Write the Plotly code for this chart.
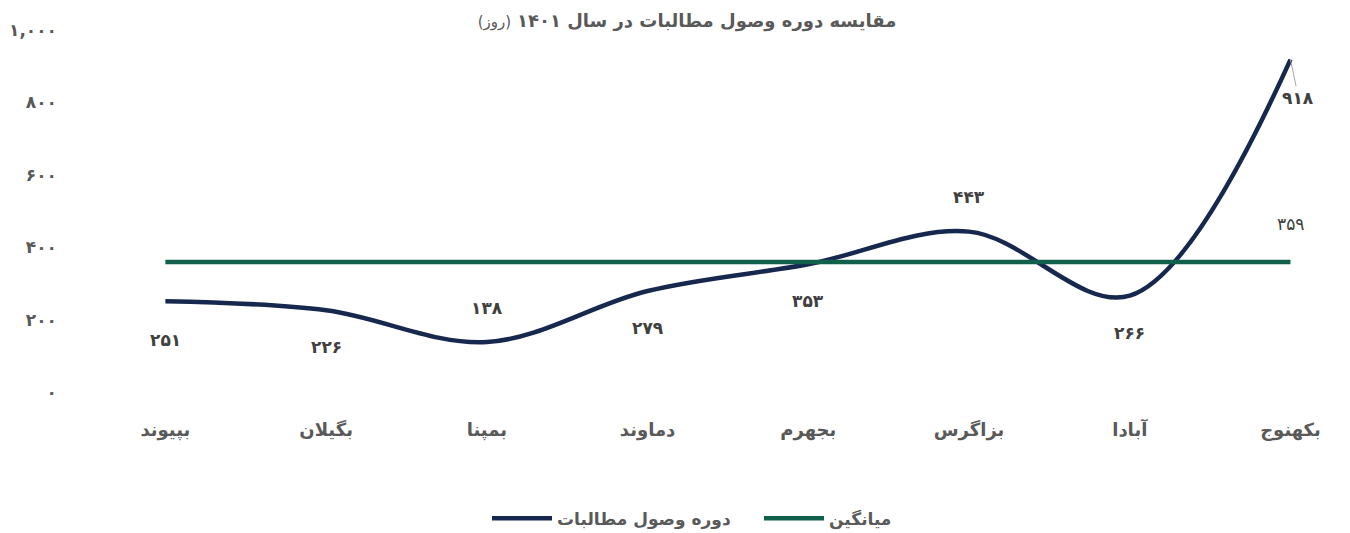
import plotly.graph_objects as go

categories = ["بپیوند", "بگیلان", "بمپنا", "دماوند", "بجهرم", "بزاگرس", "آبادا", "بکهنوج"]
collection_days = [251, 226, 138, 279, 353, 443, 266, 918]
average_days = [359, 359, 359, 359, 359, 359, 359, 359]
y_ticks = [0, 200, 400, 600, 800, 1000]
y_tick_labels = ["۰", "۲۰۰", "۴۰۰", "۶۰۰", "۸۰۰", "۱,۰۰۰"]

def fa(n):
    return str(n).translate(str.maketrans("0123456789", "۰۱۲۳۴۵۶۷۸۹"))

NAVY = "#17284f"
GREEN = "#11604b"
GRAY = "#595959"
FONT = "DejaVu Sans"

fig = go.Figure()
fig.add_trace(go.Scatter(
    x=categories, y=collection_days, mode="lines", name="<b>دوره وصول مطالبات</b>",
    line=dict(color=NAVY, width=4.5, shape="spline", smoothing=1.0),
))
fig.add_trace(go.Scatter(
    x=categories, y=average_days, mode="lines", name="<b>میانگین</b>",
    line=dict(color=GREEN, width=4.5),
))

shifts = [-39, -37, 34, -37, -37, 35, -37, None]
annotations = []
for i, (c, v) in enumerate(zip(categories, collection_days)):
    if shifts[i] is None:
        annotations.append(dict(x=c, y=v, text="<b>" + fa(v) + "</b>", showarrow=True,
                                arrowhead=0, arrowwidth=1, arrowcolor="#a6a6a6",
                                ax=8, ay=38, font=dict(family=FONT, size=17, color="#404040")))
    else:
        annotations.append(dict(x=c, y=v, text="<b>" + fa(v) + "</b>", showarrow=False,
                                yshift=shifts[i], font=dict(family=FONT, size=17, color="#404040")))
annotations.append(dict(x=categories[-1], y=average_days[-1], text=fa(average_days[-1]),
                        showarrow=False, yshift=38,
                        font=dict(family=FONT, size=17, color="#404040")))

fig.update_layout(
    width=1350, height=533,
    margin=dict(l=77, r=0, t=22, b=149),
    paper_bgcolor="#ffffff", plot_bgcolor="rgba(0,0,0,0)",
    title=dict(text="<b>مقایسه دوره وصول مطالبات در سال ۱۴۰۱</b> <span style='font-size:15px'>(روز)</span>",
               x=0.503, xanchor="center", y=0.976, yanchor="middle",
               font=dict(family=FONT, size=18, color=GRAY)),
    xaxis=dict(range=[-0.5, 7.42], showgrid=False, zeroline=False, showline=False,
               ticks="", tickfont=dict(family=FONT, size=18, color=GRAY), ticklabelstandoff=25),
    yaxis=dict(range=[0, 1000], tickvals=y_ticks, ticktext=["<b>" + t + "</b>" for t in y_tick_labels],
               showgrid=False, zeroline=False, showline=False, ticks="",
               tickfont=dict(family=FONT, size=17, color=GRAY), ticklabelstandoff=27),
    legend=dict(orientation="h", x=0.3158, xanchor="left", y=-0.35, yanchor="middle",
                font=dict(family=FONT, size=17, color=GRAY), itemwidth=60,
                entrywidth=197, entrywidthmode="pixels"),
    showlegend=True,
    annotations=annotations,
)
fig.update_xaxes(tickvals=categories, ticktext=["<b>" + c + "</b>" for c in categories])

fig.write_html("out.html")
